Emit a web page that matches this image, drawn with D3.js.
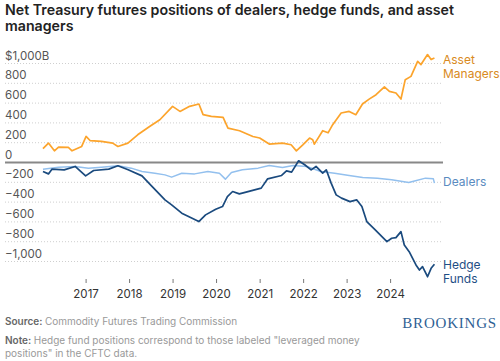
<!DOCTYPE html>
<html>
<head>
<meta charset="utf-8">
<script src="https://cdn.jsdelivr.net/npm/d3@7"></script>
<style>
  body { margin: 0; background: #fff; }
  svg { display: block; font-family: Inter, Roboto, "Noto Sans", sans-serif; }
</style>
</head>
<body>
<svg id="chart" width="500" height="361"></svg>
<script>
// values in billions of dollars
var assetDates = ["2016-01-05","2016-02-20","2016-04-10","2016-05-15","2016-08-05","2016-09-05","2016-11-25","2017-01-01","2017-02-05","2017-05-10","2017-08-12","2017-09-25","2017-12-18","2018-03-10","2018-06-18","2018-09-12","2018-12-28","2019-02-28","2019-05-20","2019-08-06","2019-09-10","2019-11-18","2020-02-25","2020-04-06","2020-07-12","2020-11-01","2020-12-28","2021-03-18","2021-07-08","2021-09-18","2021-11-01","2021-12-25","2022-02-20","2022-03-18","2022-04-01","2022-06-10","2022-07-25","2022-09-02","2022-11-12","2023-01-18","2023-03-15","2023-05-10","2023-07-05","2023-09-01","2023-11-10","2023-12-22","2024-02-15","2024-03-28","2024-05-03","2024-06-20","2024-08-15","2024-09-12","2024-11-06","2024-12-06","2025-01-03"];
var assetValues = [140,196,118,156,152,118,162,263,220,213,196,162,196,280,364,432,567,516,567,591,483,466,456,348,321,263,247,186,196,179,118,179,247,230,186,321,300,382,500,516,483,591,640,685,763,719,702,641,837,870,1022,989,1090,1040,1056];

var dealerDates = ["2016-01-05","2016-05-15","2016-10-01","2017-01-20","2017-05-10","2017-09-25","2018-01-15","2018-04-15","2018-08-01","2018-10-25","2018-12-20","2019-03-15","2019-07-01","2019-10-20","2020-01-25","2020-03-15","2020-05-05","2020-08-05","2020-12-15","2021-03-18","2021-07-08","2021-10-05","2022-01-28","2022-05-25","2022-09-18","2023-01-18","2023-05-12","2023-09-12","2024-01-10","2024-06-01","2024-07-28","2024-10-20","2024-12-25","2025-01-03"];
var dealerValues = [-68,-47,-40,-57,-47,-33,-57,-91,-108,-125,-148,-108,-115,-91,-108,-168,-101,-74,-57,-30,-50,-30,-40,-91,-108,-131,-151,-158,-175,-202,-185,-158,-165,-208];

var hedgeDates = ["2016-01-05","2016-02-20","2016-03-20","2016-07-01","2016-10-01","2016-12-28","2017-03-05","2017-07-10","2017-09-25","2017-12-20","2018-04-15","2018-07-10","2018-10-25","2018-12-20","2019-03-15","2019-06-10","2019-08-05","2019-10-01","2019-12-25","2020-02-20","2020-04-01","2020-05-15","2020-07-10","2020-08-20","2020-11-15","2021-01-10","2021-03-05","2021-06-30","2021-08-10","2021-09-22","2021-11-20","2022-01-10","2022-03-05","2022-04-15","2022-06-10","2022-07-10","2022-08-20","2022-10-01","2022-11-15","2023-01-25","2023-03-22","2023-05-05","2023-06-15","2023-08-25","2023-12-01","2024-01-10","2024-02-15","2024-03-28","2024-04-25","2024-06-05","2024-08-01","2024-08-30","2024-09-25","2024-11-06","2024-12-06","2025-01-03"];
var hedgeValues = [-91,-115,-67,-74,-40,-135,-81,-67,-33,-74,-135,-243,-377,-428,-512,-563,-597,-529,-472,-445,-344,-293,-317,-304,-276,-259,-165,-131,-84,-97,17,-23,-74,-40,-108,-74,-208,-327,-360,-395,-377,-445,-597,-681,-799,-765,-759,-698,-833,-901,-1035,-1086,-1052,-1154,-1069,-1028];

var yTicks = [1000, 800, 600, 400, 200, 0, -200, -400, -600, -800, -1000];
var xYears = [2017, 2018, 2019, 2020, 2021, 2022, 2023, 2024];

var parseDate = d3.timeParse("%Y-%m-%d");
var svg = d3.select("#chart");

var x = d3.scaleTime()
    .domain([new Date(2016, 0, 1), new Date(2025, 0, 1)])
    .range([42.5, 434.2]);
var y = d3.scaleLinear()
    .domain([-1000, 1000])
    .range([261.5, 63.5]);

var left = 5, right = 443;

// title
svg.append("text")
    .attr("x", 5).attr("y", 15)
    .attr("font-size", 14.2).attr("font-weight", 600).attr("fill", "#222")
    .text("Net Treasury futures positions of dealers, hedge funds, and asset");
svg.append("text")
    .attr("x", 5).attr("y", 31)
    .attr("font-size", 14.2).attr("font-weight", 600).attr("fill", "#222")
    .text("managers");

// gridlines + labels
function tickLabel(v) {
    if (v == 1000) return "$1,000B";
    var s = d3.format(",")(Math.abs(v));
    return v < 0 ? "\u2212" + s : s;
}
yTicks.forEach(function(v) {
    if (v != 0) {
        svg.append("line")
            .attr("x1", left).attr("x2", right)
            .attr("y1", y(v)).attr("y2", y(v))
            .attr("stroke", "#cfcfcf").attr("stroke-width", 1)
            .attr("stroke-dasharray", "1,2");
    }
    svg.append("text")
        .attr("x", 5).attr("y", y(v) - 4)
        .attr("font-size", 11.5).attr("fill", "#555")
        .text(tickLabel(v));
});

// x axis ticks
xYears.forEach(function(yr) {
    var xp = x(new Date(yr, 0, 1));
    svg.append("line")
        .attr("x1", xp).attr("x2", xp)
        .attr("y1", 279).attr("y2", 283)
        .attr("stroke", "#777").attr("stroke-width", 1);
    svg.append("text")
        .attr("x", xp).attr("y", 298)
        .attr("text-anchor", "middle")
        .attr("font-size", 11.5).attr("fill", "#333")
        .text(yr);
});

// zero line
svg.append("line")
    .attr("x1", left).attr("x2", right)
    .attr("y1", y(0)).attr("y2", y(0))
    .attr("stroke", "#888").attr("stroke-width", 2);

var line = d3.line()
    .x(function(d) { return x(d.date); })
    .y(function(d) { return y(d.value); });

function makeSeries(dates, values) {
    return dates.map(function(dt, i) {
        return { date: parseDate(dt), value: values[i] };
    });
}

var series = [
    { data: makeSeries(dealerDates, dealerValues), color: "#93c0ee", width: 1.5 },
    { data: makeSeries(assetDates, assetValues), color: "#fca42c", width: 1.7 },
    { data: makeSeries(hedgeDates, hedgeValues), color: "#1a4a7e", width: 1.7 }
];
series.forEach(function(s) {
    svg.append("path")
        .datum(s.data)
        .attr("d", line)
        .attr("fill", "none")
        .attr("stroke", s.color)
        .attr("stroke-width", s.width)
        .attr("stroke-linejoin", "round");
});

// series labels
var labels = [
    { lines: ["Asset", "Managers"], y: 63.5, color: "#d98a22" },
    { lines: ["Dealers"], y: 186, color: "#5a8bc0" },
    { lines: ["Hedge", "Funds"], y: 268.5, color: "#1f4e85" }
];
labels.forEach(function(l) {
    l.lines.forEach(function(t, i) {
        svg.append("text")
            .attr("x", 443).attr("y", l.y + i * 14)
            .attr("font-size", 12).attr("fill", l.color)
            .text(t);
    });
});

// footer
var src = svg.append("text").attr("x", 5).attr("y", 325).attr("font-size", 10).attr("fill", "#999");
src.append("tspan").attr("font-weight", 600).attr("fill", "#666").text("Source: ");
src.append("tspan").text("Commodity Futures Trading Commission");

var note = svg.append("text").attr("x", 5).attr("y", 344).attr("font-size", 10).attr("fill", "#999");
note.append("tspan").attr("font-weight", 600).attr("fill", "#666").text("Note: ");
note.append("tspan").text("Hedge fund positions correspond to those labeled \"leveraged money");
svg.append("text").attr("x", 5).attr("y", 357).attr("font-size", 10).attr("fill", "#999")
    .text("positions\" in the CFTC data.");

svg.append("text")
    .attr("x", 497).attr("y", 328)
    .attr("text-anchor", "end")
    .attr("font-family", "\"Liberation Serif\", \"DejaVu Serif\", serif")
    .attr("font-size", 15).attr("letter-spacing", 0.8)
    .attr("fill", "#2f5f94")
    .text("BROOKINGS");
</script>
</body>
</html>
